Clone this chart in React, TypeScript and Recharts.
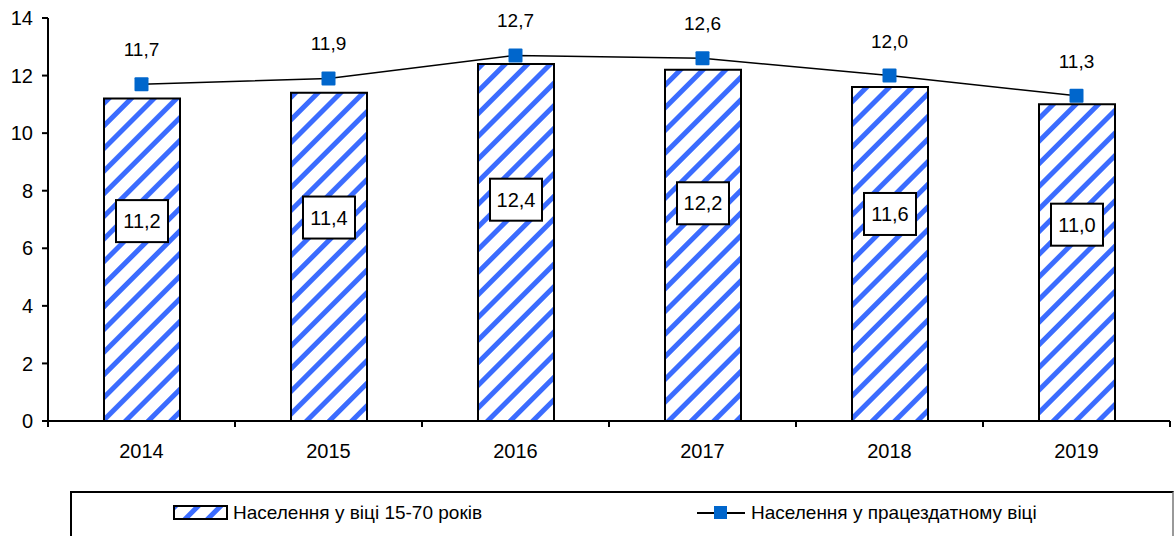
import React from "react";
import { Bar, ComposedChart, LabelList, Line, XAxis, YAxis } from "recharts";

const years = ["2014", "2015", "2016", "2017", "2018", "2019"];
const age1570 = [11.2, 11.4, 12.4, 12.2, 11.6, 11.0];
const workingAge = [11.7, 11.9, 12.7, 12.6, 12.0, 11.3];
const yTicks = [0, 2, 4, 6, 8, 10, 12, 14];

const data = years.map((year, i) => ({ year, age: age1570[i], work: workingAge[i] }));

const FONT = "'Liberation Sans', Arial, sans-serif";
const fmt = (v: number) => v.toFixed(1).replace(".", ",");

function XTick(props: any) {
  const { x, y, payload, index } = props;
  const half = payload?.offset ?? 0;
  return (
    <g>
      <line x1={x - half} x2={x - half} y1={y} y2={y + 6} stroke="#000" strokeWidth={2} />
      {index === years.length - 1 && (
        <line x1={x + half} x2={x + half} y1={y} y2={y + 6} stroke="#000" strokeWidth={2} />
      )}
      <text x={x} y={y + 37} textAnchor="middle" fontSize={20} fontFamily={FONT} fill="#000">
        {payload.value}
      </text>
    </g>
  );
}

function BoxLabel(props: any) {
  const { x, y, width, height, value } = props;
  const cx = x + width / 2;
  const cy = y + height * 0.38;
  return (
    <g>
      <rect x={cx - 26} y={cy - 21} width={52} height={42} fill="#fff" stroke="#000" strokeWidth={2} />
      <text x={cx} y={cy + 7} textAnchor="middle" fontSize={20} fontFamily={FONT} fill="#000">
        {fmt(value)}
      </text>
    </g>
  );
}

function SquareDot(props: any) {
  const { cx, cy } = props;
  if (cx == null || cy == null) return null;
  return <rect x={cx - 7} y={cy - 7} width={14} height={14} rx={1} fill="#0066cc" />;
}

export default function App() {
  return (
    <div style={{ position: "absolute", left: 0, top: 0, width: 1174, height: 536, background: "#fff", fontFamily: FONT }}>
      <svg width={0} height={0} style={{ position: "absolute" }}>
        <defs>
          <pattern id="stripes" patternUnits="userSpaceOnUse" width={16} height={16} patternTransform="rotate(45)">
            <rect width={16} height={16} fill="#fff" />
            <rect width={5} height={16} fill="#3b6cff" />
          </pattern>
        </defs>
      </svg>
      <ComposedChart width={1174} height={536} data={data} margin={{ top: 18, right: 4, bottom: 85, left: 0 }}>
        <XAxis
          dataKey="year"
          axisLine={{ stroke: "#000", strokeWidth: 2 }}
          tickLine={false}
          tickSize={0}
          tickMargin={0}
          height={30}
          tick={<XTick />}
          interval={0}
        />
        <YAxis
          domain={[0, 14]}
          ticks={yTicks}
          width={48}
          axisLine={{ stroke: "#000", strokeWidth: 2 }}
          tickLine={{ stroke: "#000", strokeWidth: 2 }}
          tickSize={6}
          tickMargin={9}
          tick={{ fontSize: 20, fill: "#000", fontFamily: FONT }}
        />
        <Bar dataKey="age" barSize={76} fill="url(#stripes)" stroke="#000" strokeWidth={2} isAnimationActive={false}>
          <LabelList dataKey="age" content={<BoxLabel />} />
        </Bar>
        <Line
          dataKey="work"
          stroke="#000"
          strokeWidth={1.5}
          dot={<SquareDot />}
          activeDot={false}
          isAnimationActive={false}
        >
          <LabelList
            dataKey="work"
            position="top"
            offset={28}
            formatter={(v: any) => fmt(Number(v))}
            style={{ fontSize: 19, fill: "#000", fontFamily: FONT }}
          />
        </Line>
      </ComposedChart>
      <div
        style={{
          position: "absolute",
          left: 70,
          top: 491,
          width: 1100,
          height: 44,
          borderTop: "2px solid #000",
          borderLeft: "2px solid #000",
          borderRight: "2px solid #999",
          borderBottom: "2px solid #999",
          fontSize: 19,
          color: "#000",
        }}
      >
        <div style={{ position: "absolute", left: 101, top: 9, display: "flex", alignItems: "center" }}>
          <svg width={56} height={16}>
            <rect x={1} y={1} width={53} height={13} fill="url(#stripes)" stroke="#000" strokeWidth={2} />
          </svg>
          <span style={{ marginLeft: 4 }}>Населення у віці 15-70 років</span>
        </div>
        <div style={{ position: "absolute", left: 625, top: 9, display: "flex", alignItems: "center" }}>
          <svg width={48} height={16}>
            <line x1={0} x2={48} y1={8} y2={8} stroke="#000" strokeWidth={2} />
            <rect x={17} y={1} width={13} height={13} fill="#0066cc" />
          </svg>
          <span style={{ marginLeft: 6 }}>Населення у працездатному віці</span>
        </div>
      </div>
    </div>
  );
}
